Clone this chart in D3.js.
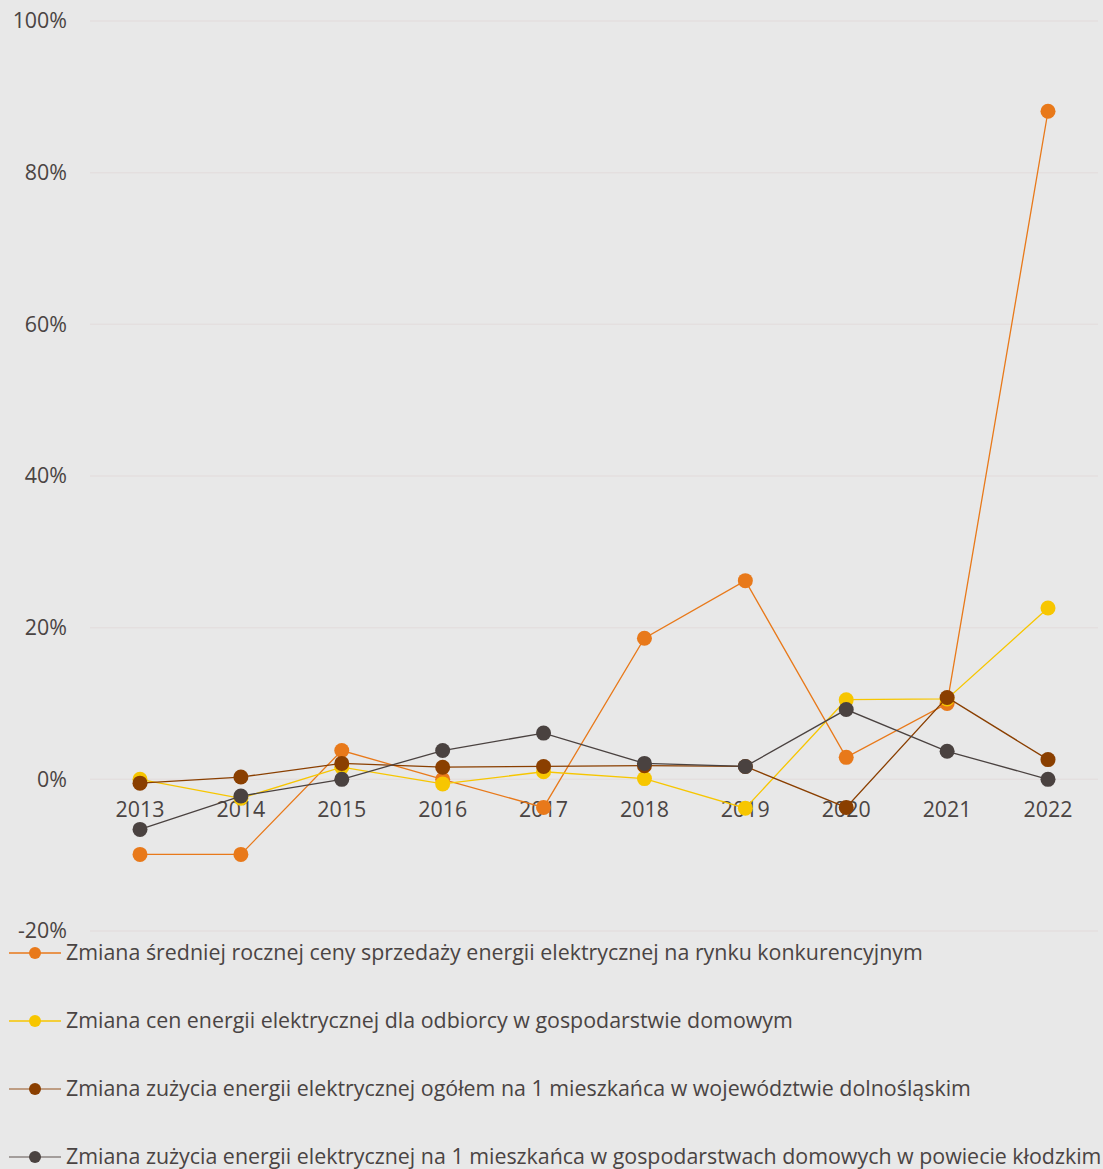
<!DOCTYPE html>
<html><head><meta charset="utf-8">
<script src="https://cdn.jsdelivr.net/npm/d3@7/dist/d3.min.js"></script>
<style>html,body{margin:0;padding:0;background:#e8e8e8;}svg{display:block;font-family:"Open Sans",sans-serif;}</style>
</head><body>
<script>
const years = ["2013","2014","2015","2016","2017","2018","2019","2020","2021","2022"];
const seriesNames = [
  "Zmiana średniej rocznej ceny sprzedaży energii elektrycznej na rynku konkurencyjnym",
  "Zmiana cen energii elektrycznej dla odbiorcy w gospodarstwie domowym",
  "Zmiana zużycia energii elektrycznej ogółem na 1 mieszkańca w województwie dolnośląskim",
  "Zmiana zużycia energii elektrycznej na 1 mieszkańca w gospodarstwach domowych w powiecie kłodzkim"
];
const priceMarket = [-9.9, -9.9, 3.8, 0.0, -3.7, 18.6, 26.2, 2.9, 10.0, 88.1];
const priceHousehold = [0.0, -2.5, 1.6, -0.6, 1.0, 0.1, -3.8, 10.5, 10.6, 22.6];
const usageRegion = [-0.5, 0.3, 2.1, 1.6, 1.7, 1.8, 1.7, -3.7, 10.8, 2.6];
const usageCounty = [-6.6, -2.2, 0.0, 3.8, 6.1, 2.1, 1.7, 9.2, 3.7, 0.0];
const yTicks = [-20, 0, 20, 40, 60, 80, 100];

const colors = ["#e8791a", "#f7c600", "#8a3f00", "#4a4240"];
const legendLineColors = ["#e8791a", "#f7c600", "#b08462", "#8c8482"];
const allSeries = [priceMarket, priceHousehold, usageRegion, usageCounty];

const W = 1103, H = 1169, FS = 21.4;
const svg = d3.select("body").append("svg").attr("width", W).attr("height", H);
svg.append("rect").attr("width", W).attr("height", H).attr("fill", "#e8e8e8");

const y = d3.scaleLinear().domain([-20, 100]).range([931, 21]);
const x = d3.scalePoint().domain(years).range([140, 1048]);

// grid
svg.append("g").selectAll("line").data(yTicks).join("line")
  .attr("x1", 90).attr("x2", 1098)
  .attr("y1", d => y(d)).attr("y2", d => y(d))
  .attr("stroke", "#e4dfdf").attr("stroke-width", 1.5);

// y labels
svg.append("g").selectAll("text").data(yTicks).join("text")
  .attr("x", 67).attr("y", d => y(d)).attr("dy", "0.35em")
  .attr("text-anchor", "end").attr("font-size", FS).attr("fill", "#4a4443")
  .text(d => d + "%");

// x labels
svg.append("g").selectAll("text").data(years).join("text")
  .attr("x", d => x(d)).attr("y", y(0) + 38)
  .attr("text-anchor", "middle").attr("font-size", FS).attr("fill", "#4a4443")
  .text(d => d);

const line = d3.line().x((d, i) => x(years[i])).y(d => y(d));

allSeries.forEach((s, k) => {
  const g = svg.append("g");
  g.append("path").datum(s).attr("d", line).attr("fill", "none")
    .attr("stroke", colors[k]).attr("stroke-width", 1.3);
  g.selectAll("circle").data(s).join("circle")
    .attr("cx", (d, i) => x(years[i])).attr("cy", d => y(d)).attr("r", 7.5)
    .attr("fill", colors[k]);
});

// legend
const lg = svg.append("g");
seriesNames.forEach((name, k) => {
  const yy = 953 + k * 68;
  lg.append("line").attr("x1", 9).attr("x2", 61).attr("y1", yy).attr("y2", yy)
    .attr("stroke", legendLineColors[k]).attr("stroke-width", 1.5);
  lg.append("circle").attr("cx", 35).attr("cy", yy).attr("r", 6).attr("fill", colors[k]);
  lg.append("text").attr("x", 66).attr("y", yy).attr("dy", "0.35em")
    .attr("font-size", FS).attr("fill", "#4a4443").text(name);
});
</script>
</body></html>
